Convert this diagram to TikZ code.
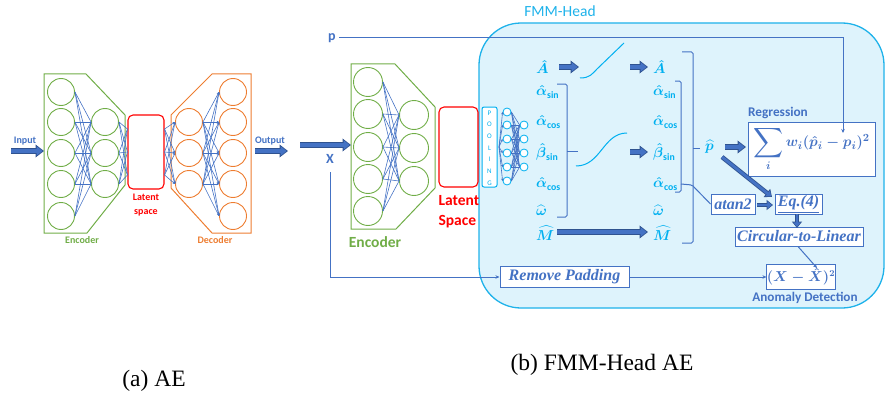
\documentclass[tikz,border=0pt]{standalone}
\usepackage[no-math]{fontspec}
\usepackage{amsmath}
\setmainfont{Liberation Serif}
\newfontfamily\calib{Carlito}
\usetikzlibrary{arrows.meta}

\definecolor{ink}{RGB}{68,114,196}
\definecolor{inkdark}{RGB}{47,82,143}
\definecolor{cyanm}{RGB}{0,176,240}
\definecolor{headfill}{RGB}{222,243,252}
\definecolor{headline}{RGB}{30,178,234}
\definecolor{encgreen}{RGB}{112,173,71}
\definecolor{decorange}{RGB}{237,125,49}
\definecolor{latred}{RGB}{255,0,0}

\newcommand\boxtext{\fontsize{16}{18}\selectfont\bfseries\itshape}
\newcommand\sub[1]{\text{\calib\bfseries #1}}

\begin{document}
\begin{tikzpicture}[x=1pt,y=-1pt,
  encc/.style={circle, draw=encgreen, line width=0.9pt, minimum size=27pt, inner sep=0pt},
  encb/.style={circle, draw=encgreen, line width=0.9pt, minimum size=29pt, inner sep=0pt},
  decc/.style={circle, draw=decorange, line width=0.9pt, minimum size=27pt, inner sep=0pt},
  tinyc/.style={circle, draw=cyanm, fill=white, line width=0.8pt, minimum size=8pt, inner sep=0pt},
  latbox/.style={draw=latred, line width=1.1pt, rounded corners=5pt, inner sep=0pt},
  nnl/.style={draw=ink, line width=0.6pt},
  nnarr/.style={draw=ink, line width=0.6pt, -{Stealth[length=2.5pt,width=2.5pt]}},
  conn/.style={draw=ink, line width=1pt, -{Stealth[length=4pt,width=3.5pt]}},
  bra/.style={draw=ink, line width=1pt, rounded corners=1.5pt},
  fat/.style={draw=inkdark, line width=6pt, -{Triangle[length=8.5pt,width=12.5pt]},
    postaction={draw=ink, line width=4pt, -{Triangle[length=6pt,width=9pt]}, shorten >=1.4pt}},
  fatsm/.style={draw=inkdark, line width=4.5pt, -{Triangle[length=6.5pt,width=10pt]},
    postaction={draw=ink, line width=2.8pt, -{Triangle[length=4.5pt,width=7pt]}, shorten >=1.1pt}},
  boxn/.style={draw=ink, line width=1pt, fill=white, inner sep=1pt, text=ink},
  cyl/.style={text=cyanm, inner sep=0pt, font=\fontsize{14}{16}\selectfont},
  sans/.style={font=\calib\bfseries\fontsize{10}{14}\selectfont},
  sansbig/.style={font=\calib\bfseries\fontsize{15.5}{20}\selectfont},
  capt/.style={font=\fontsize{23.5}{26}\selectfont, inner sep=0pt}]

\useasboundingbox (0,0) rectangle (886,396);

% ---------------- (a) plain autoencoder ----------------
\draw[encgreen, line width=1pt] (44,74) -- (86,74) -- (125,115) -- (125,185) -- (87,233) -- (44,233) -- cycle;
\draw[decorange, line width=1pt] (212,74) -- (251,74) -- (251,233) -- (212,233) -- (171,188) -- (171,115) -- cycle;

\foreach \i/\y in {1/92,2/122,3/153,4/184,5/216} \node[encc] (ea\i) at (61,\y) {};
\foreach \i/\y in {1/122,2/153,3/184} \node[encc] (eb\i) at (105,\y) {};
\foreach \i/\y in {1/122,2/153,3/184} \node[decc] (da\i) at (189,\y) {};
\foreach \i/\y in {1/92,2/122,3/153,4/184,5/216} \node[decc] (db\i) at (233,\y) {};
\node[latbox, minimum width=36pt, minimum height=74pt] (lata) at (146,152) {};

\foreach \i in {1,...,5} \foreach \j in {1,2,3} \draw[nnl] (ea\i.east) -- (eb\j.west);
\foreach \j in {1,2,3} \foreach \s in {-23,0,23} \draw[nnl] (eb\j.east) -- ([yshift=\s pt]lata.west);
\foreach \j in {1,2,3} \foreach \s in {-23,0,23} \draw[nnarr] ([yshift=\s pt]lata.east) -- (da\j.west);
\foreach \j in {1,2,3} \foreach \i in {1,...,5} \draw[nnarr] (da\j.east) -- (db\i.west);

\coordinate (inA) at (11,151);
\coordinate (encA) at (44,151);
\coordinate (decA) at (255,151);
\coordinate (outA) at (288,151);
\draw[fat] (inA) -- (encA);
\draw[fat] (decA) -- (outA);
\node[sans, text=ink] (inlab) at (25,141) {Input};
\node[sans, text=ink] (outlab) at (270,141) {Output};
\node[sans, text=latred, align=center] (latlab) at (146,205) {Latent\\space};
\node[sans, text=encgreen] (enclab) at (82,240) {Encoder};
\node[sans, text=decorange] (declab) at (215,240) {Decoder};

\node[capt] (capa) at (154,381) {(a) AE};

% ---------------- (b) autoencoder with FMM head ----------------
\draw[headline, fill=headfill, line width=1.3pt, rounded corners=42pt] (479,23) rectangle (884,308);
\node[font=\calib\fontsize{15.5}{18}\selectfont, text=headline] (headlab) at (560,11) {FMM-Head};

\draw[encgreen, line width=1pt] (351,64) -- (395,64) -- (435,107) -- (435,188) -- (396,229) -- (351,229) -- cycle;
\foreach \i/\y in {1/82,2/114,3/147,4/179,5/211} \node[encb] (fa\i) at (368,\y) {};
\foreach \i/\y in {1/115,2/148,3/181} \node[encb] (fb\i) at (414,\y) {};
\foreach \i in {1,...,5} \foreach \j in {1,2,3} \draw[nnl] (fa\i.east) -- (fb\j.west);
\node[sansbig, text=encgreen] (encb) at (375,242) {Encoder};

\node[latbox, minimum width=39pt, minimum height=80pt] (latb) at (458.5,147) {};
\node[sansbig, text=latred, align=left, anchor=west] (latblab) at (435,212) {Latent\\Space};

\node[draw=cyanm, fill=white, line width=1pt, rounded corners=2pt, minimum width=15pt, minimum height=80pt, inner sep=0pt] (pool) at (489.5,147) {};
\node[font=\calib\fontsize{7}{11.7}\selectfont, text=cyanm, align=center, inner sep=0pt] (poollab) at (489.5,148) {P\\O\\O\\L\\I\\N\\G};

\coordinate (fan) at (499,147);
\foreach \i/\y in {1/112,2/125,3/139,4/153,5/167,6/181} \node[tinyc] (sa\i) at (507,\y) {};
\foreach \i/\y in {1/125,2/139,3/153,4/167} \node[tinyc] (sb\i) at (524,\y) {};
\foreach \i in {1,...,6} \draw[nnarr] (fan) -- (sa\i.west);
\foreach \i in {1,...,6} \foreach \j in {1,...,4} \draw[nnl] (sa\i.east) -- (sb\j.west);

% inputs p and X
\node[font=\calib\bfseries\fontsize{14}{16}\selectfont, text=ink] (p) at (332,38) {p};
\node[font=\calib\bfseries\fontsize{14}{16}\selectfont, text=ink] (X) at (330,159) {X};
\coordinate (xin0) at (300,145);
\coordinate (xin1) at (351,145);
\draw[fat] (xin0) -- (xin1);

% head outputs, left column
\node[cyl, anchor=west] (Al) at (536,67) {$\boldsymbol{\hat A}$};
\node[cyl, anchor=west] (asl) at (536,92) {$\boldsymbol{\hat\alpha}_{\sub{sin}}$};
\node[cyl, anchor=west] (acl) at (536,122) {$\boldsymbol{\hat\alpha}_{\sub{cos}}$};
\node[cyl, anchor=west] (bsl) at (536,152) {$\boldsymbol{\hat\beta}_{\sub{sin}}$};
\node[cyl, anchor=west] (ac2l) at (536,184) {$\boldsymbol{\hat\alpha}_{\sub{cos}}$};
\node[cyl, anchor=west] (wl) at (536,210) {$\boldsymbol{\widehat\omega}$};
\node[cyl, anchor=west] (Ml) at (536,233) {$\boldsymbol{\widehat M}$};

% right column
\node[cyl, anchor=west] (Ar) at (653,67) {$\boldsymbol{\hat A}$};
\node[cyl, anchor=west] (asr) at (653,92) {$\boldsymbol{\hat\alpha}_{\sub{sin}}$};
\node[cyl, anchor=west] (acr) at (653,122) {$\boldsymbol{\hat\alpha}_{\sub{cos}}$};
\node[cyl, anchor=west] (bsr) at (653,152) {$\boldsymbol{\hat\beta}_{\sub{sin}}$};
\node[cyl, anchor=west] (ac2r) at (653,184) {$\boldsymbol{\hat\alpha}_{\sub{cos}}$};
\node[cyl, anchor=west] (wr) at (653,210) {$\boldsymbol{\widehat\omega}$};
\node[cyl, anchor=west] (Mr) at (653,233) {$\boldsymbol{\widehat M}$};

% brackets
\draw[bra] (557,84) -- (567,84) -- (567,217) -- (557,217);
\draw[bra] (567,151) -- (578,151);
\draw[bra] (675,81) -- (681,81) -- (681,192) -- (675,192);
\draw[bra] (682,52) -- (693,52) -- (693,243) -- (682,243);
\draw[bra] (693,148) -- (700,148);

% activation curves
\draw[cyanm, line width=1pt] (580,78) .. controls (590,78) and (592,74) .. (597,69) -- (624,43);
\draw[cyanm, line width=1pt] (576,166) .. controls (601,166) and (603,133) .. (627,133);

% block arrows through the head
\coordinate (a1s) at (559,67);
\coordinate (a1e) at (579,67);
\coordinate (a2s) at (630,67);
\coordinate (a2e) at (648,67);
\coordinate (b2s) at (630,152);
\coordinate (b2e) at (648,152);
\coordinate (m1s) at (557,232);
\coordinate (m1e) at (648,232);
\draw[fat] (a1s) -- (a1e);
\draw[fat] (a2s) -- (a2e);
\draw[fat] (b2s) -- (b2e);
\draw[fat] (m1s) -- (m1e);

% parameter vector and losses
\node[cyl, anchor=west] (phat) at (705,147) {$\boldsymbol{\widehat p}$};

\node[boxn, minimum width=127pt, minimum height=54pt] (reg) at (811.5,149)
  {\fontsize{15}{18}\selectfont$\mathop{\vcenter{\hbox{\scalebox{1.45}{$\displaystyle\sum$}}}}\limits_{\boldsymbol{i}}\boldsymbol{w_i(\hat p_i-p_i)^2}$};
\node[font=\calib\bfseries\fontsize{13.3}{16}\selectfont, text=ink] (reglab) at (778,113) {Regression};

\node[boxn, minimum width=44pt, minimum height=20pt, font=\boxtext] (atan) at (733,204) {atan2};
\node[boxn, minimum width=47pt, minimum height=20pt, font=\boxtext] (eq4) at (798.5,204) {\underline{Eq.(4)}};
\node[boxn, minimum width=128pt, minimum height=19pt, font=\boxtext] (c2l) at (799,236.5) {Circular-to-Linear};
\node[boxn, minimum width=66pt, minimum height=25pt, inner sep=0pt] (xx) at (801,277) {\fontsize{13.5}{16}\selectfont$\boldsymbol{(X-\hat X)^2}$};
\node[font=\calib\bfseries\fontsize{13.2}{16}\selectfont, text=ink] (anlab) at (805,298) {Anomaly Detection};
\node[boxn, minimum width=129pt, minimum height=21pt, font=\boxtext] (rp) at (564.5,277) {Remove Padding};

\coordinate (p1s) at (725,147);
\coordinate (p1e) at (746,147);
\draw[fat] (p1s) -- (p1e);
\coordinate (p2s) at (722,157);
\coordinate (p2e) at (772,197);
\draw[fatsm] (p2s) -- (p2e);
\coordinate (t1s) at (757,205);
\coordinate (t1e) at (773,205);
\draw[fatsm] (t1s) -- (t1e);
\coordinate (e1s) at (797,214);
\coordinate (e1e) at (797,228);
\draw[fatsm] (e1s) -- (e1e);

\draw[bra] (681,184) -- (692,185) -- (atan.west);

\coordinate (ptip) at (843,133);
\draw[conn] (p.east) -| (ptip);
\draw[conn] ([yshift=-5pt]X.south) |- (rp.west);
\draw[conn] (rp.east) -- (xx.west);
\draw[conn] ([xshift=-1pt]c2l.south) -- ([xshift=16pt,yshift=-4pt]xx.north);

\node[capt] (capb) at (602,365) {(b) FMM-Head AE};
\end{tikzpicture}
\end{document}
